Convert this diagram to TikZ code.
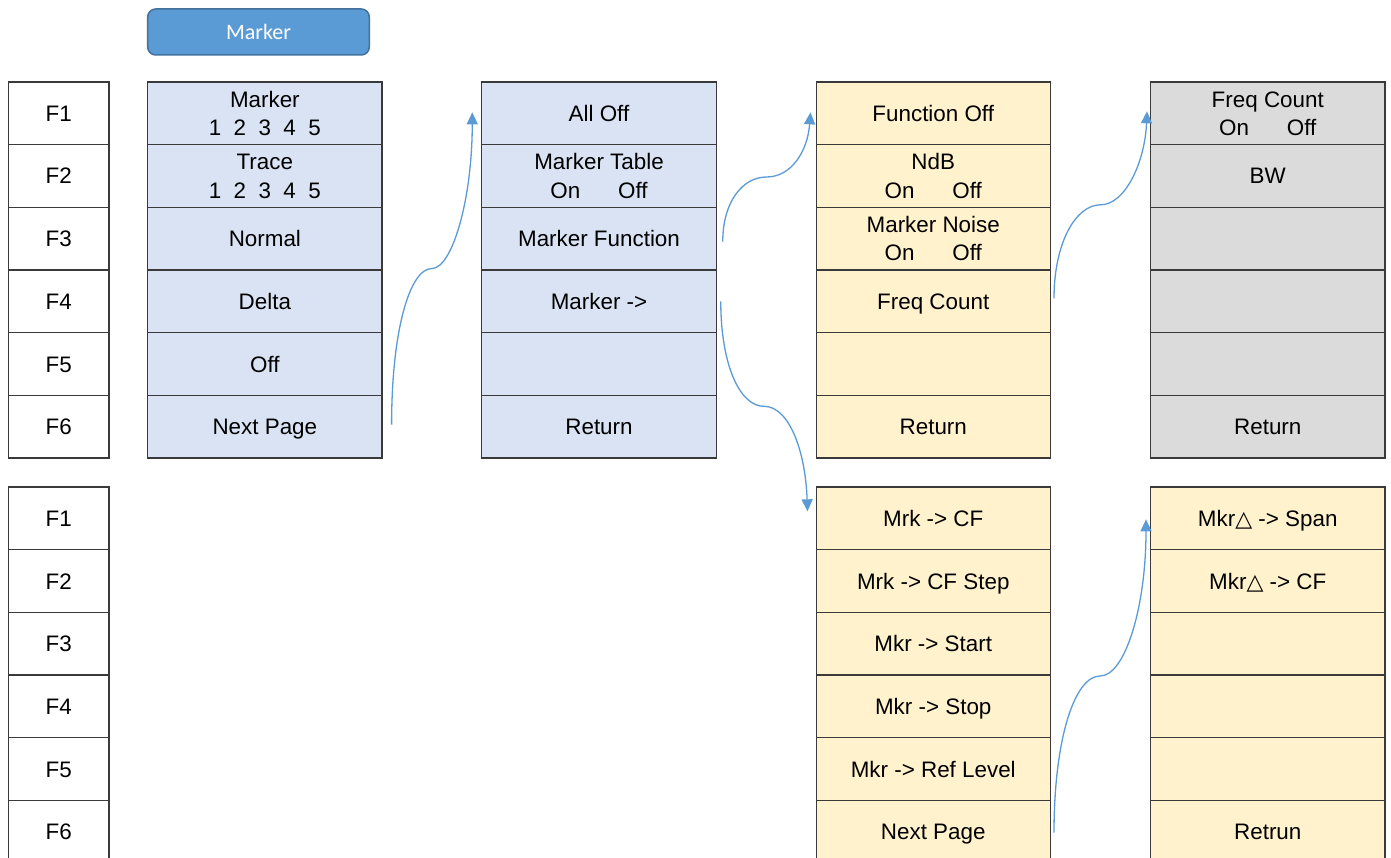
\documentclass[tikz,border=0pt]{standalone}
\usepackage{fontspec}
\setmainfont{Liberation Sans}
\newfontfamily\btnfont{Carlito}
\newfontfamily\symfont{DejaVu Sans}
\usetikzlibrary{arrows.meta,calc}
\definecolor{cellblue}{HTML}{DAE3F3}
\definecolor{cellyellow}{HTML}{FFF2CC}
\definecolor{cellgray}{HTML}{DBDBDB}
\definecolor{bordercol}{HTML}{3A3A3A}
\definecolor{arrowblue}{HTML}{5B9BD5}
\definecolor{btnfill}{HTML}{5B9BD5}
\definecolor{btnborder}{HTML}{41719C}
\newcommand{\tri}{{\symfont\fontsize{22}{22}\selectfont △}}
\newcommand{\onoff}{On\hspace{38pt}Off}
\newcommand{\cellstrut}{\rule[-6.25pt]{0pt}{28.5pt}}
\newcommand{\twol}[2]{\vbox{\offinterlineskip\halign{\hfil##\hfil\cr\cellstrut#1\cr\cellstrut#2\cr}}}
\tikzset{
  cell/.style={draw=bordercol, line width=1.2pt, minimum width=234.3pt, minimum height=62.67pt,
    inner sep=0pt, font=\fontsize{22.4}{28.5}\selectfont, text=black,
    execute at begin node=\cellstrut},
  fcell/.style={cell, fill=white, minimum width=100.5pt},
  bcell/.style={cell, fill=cellblue},
  ycell/.style={cell, fill=cellyellow},
  gcell/.style={cell, fill=cellgray},
  button/.style={draw=btnborder, fill=btnfill, line width=1.5pt, rounded corners=8pt,
    minimum width=221.6pt, minimum height=46pt, inner sep=0pt, text=white,
    font=\btnfont\fontsize{22}{22}\selectfont},
  arr/.style={draw=arrowblue, line width=1.3pt, -{Triangle[length=12pt,width=11pt]}}
}
\begin{document}
\begin{tikzpicture}[x=1pt,y=-1pt]
\useasboundingbox (0,0) rectangle (1391,858);
\clip (0,0) rectangle (1391,858);
\fill[white] (0,0) rectangle (1391,858);

\node[button] (btn) at (258.5,32) {Marker};

% F columns
\foreach \i/\y in {1/113.33,2/176,3/238.67,4/301.33,5/364,6/426.67}
  \node[fcell] (fa\i) at (58.75,\y) {F\i};
\foreach \i/\y in {1/518.33,2/581,3/643.67,4/706.33,5/769,6/831.67}
  \node[fcell] (fb\i) at (58.75,\y) {F\i};

% column 1
\node[bcell] (a1) at (264.85,113.33) {\twol{Marker}{1~~2~~3~~4~~5}};
\node[bcell] (a2) at (264.85,176) {\twol{Trace}{1~~2~~3~~4~~5}};
\node[bcell] (a3) at (264.85,238.67) {Normal};
\node[bcell] (a4) at (264.85,301.33) {Delta};
\node[bcell] (a5) at (264.85,364) {Off};
\node[bcell] (a6) at (264.85,426.67) {Next Page};

% column 2
\node[bcell] (b1) at (599,113.33) {All Off};
\node[bcell] (b2) at (599,176) {\twol{Marker Table}{\onoff}};
\node[bcell] (b3) at (599,238.67) {Marker Function};
\node[bcell] (b4) at (599,301.33) {Marker ->};
\node[bcell] (b5) at (599,364) {};
\node[bcell] (b6) at (599,426.67) {Return};

% column 3 top
\node[ycell] (c1) at (933.25,113.33) {Function Off};
\node[ycell] (c2) at (933.25,176) {\twol{NdB}{\onoff}};
\node[ycell] (c3) at (933.25,238.67) {\twol{Marker Noise}{\onoff}};
\node[ycell] (c4) at (933.25,301.33) {Freq Count};
\node[ycell] (c5) at (933.25,364) {};
\node[ycell] (c6) at (933.25,426.67) {Return};

% column 4 top
\node[gcell] (d1) at (1267.75,113.33) {\twol{Freq Count}{\onoff}};
\node[gcell] (d2) at (1267.75,176) {BW};
\node[gcell] (d3) at (1267.75,238.67) {};
\node[gcell] (d4) at (1267.75,301.33) {};
\node[gcell] (d5) at (1267.75,364) {};
\node[gcell] (d6) at (1267.75,426.67) {Return};

% column 3 bottom
\node[ycell] (e1) at (933.25,518.33) {Mrk -> CF};
\node[ycell] (e2) at (933.25,581) {Mrk -> CF Step};
\node[ycell] (e3) at (933.25,643.67) {Mkr -> Start};
\node[ycell] (e4) at (933.25,706.33) {Mkr -> Stop};
\node[ycell] (e5) at (933.25,769) {Mkr -> Ref Level};
\node[ycell] (e6) at (933.25,831.67) {Next Page};

% column 4 bottom
\node[ycell] (g1) at (1267.75,518.33) {Mkr\tri{} -> Span};
\node[ycell] (g2) at (1267.75,581) {Mkr\tri{} -> CF};
\node[ycell] (g3) at (1267.75,643.67) {};
\node[ycell] (g4) at (1267.75,706.33) {};
\node[ycell] (g5) at (1267.75,769) {};
\node[ycell] (g6) at (1267.75,831.67) {Retrun};

% connector end points
\coordinate (s1) at ([shift={(9,-2)}]a6.east);
\coordinate (t1) at ([shift={(-9,-1)}]b1.west);
\coordinate (s2) at ([shift={(6,3)}]b3.east);
\coordinate (t2) at ([shift={(-5,-1)}]c1.west);
\coordinate (s3) at ([shift={(4,0)}]b4.east);
\coordinate (t3) at ([shift={(-8,-7)}]e1.west);
\coordinate (s4) at ([shift={(3,-3)}]c4.east);
\coordinate (t4) at ([shift={(-3,-2)}]d1.west);
\coordinate (s5) at ([shift={(3,1)}]e6.east);
\coordinate (t5) at ([shift={(-4,1)}]g1.west);
\foreach \k in {1,...,5}
  \coordinate (m\k) at ($(s\k)!0.5!(t\k)$);

\draw[arr] (s1) .. controls +(0,-95) and +(-22,0) .. (m1) .. controls +(20,0) and +(0,88) .. (t1);
\draw[arr] (s2) .. controls +(0,-40) and +(-24,0) .. (m2) .. controls +(24,0) and +(-3,40) .. (t2);
\draw[arr] (s3) .. controls +(0,62) and +(-25,0) .. (m3) .. controls +(25,0) and +(-2,-60) .. (t3);
\draw[arr] (s4) .. controls +(0,-55) and +(-25,0) .. (m4) .. controls +(25,0) and +(-2,50) .. (t4);
\draw[arr] (s5) .. controls +(0,-95) and +(-25,0) .. (m5) .. controls +(25,0) and +(0,88) .. (t5);
\end{tikzpicture}
\end{document}
